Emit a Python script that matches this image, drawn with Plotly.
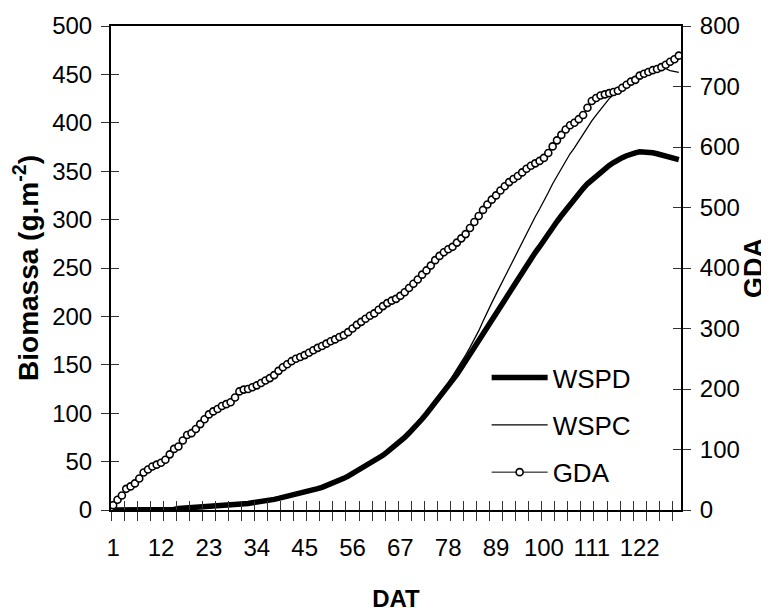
import plotly.graph_objects as go

# ---------------- data ----------------
days = list(range(1, 132))  # DAT categories 1..131

gda = [8, 17, 24, 35, 39, 44, 52, 62, 67, 72,
       75, 78, 83, 92, 101, 105, 115, 124, 127, 134,
       142, 150, 158, 163, 167, 172, 175, 178, 186, 196,
       199, 200, 203, 206, 210, 214, 218, 223, 230, 236,
       241, 246, 250, 253, 256, 260, 264, 268, 271, 275,
       279, 282, 286, 289, 294, 300, 306, 311, 316, 321,
       325, 331, 337, 342, 346, 349, 354, 360, 367, 374,
       381, 389, 396, 404, 413, 420, 426, 431, 435, 442,
       449, 456, 466, 476, 486, 496, 505, 513, 520, 528,
       535, 542, 547, 552, 558, 564, 569, 573, 577, 582,
       590, 601, 611, 620, 629, 636, 640, 646, 653, 665,
       676, 681, 685, 687, 689, 691, 693, 698, 703, 708,
       711, 718, 721, 724, 727, 729, 732, 736, 741, 745,
       751]

wspd = [0, 0, 0, 0, 0, 0, 0, 0, 0, 0,
        0, 0, 0, 0, 0.5, 1.5, 1.8, 2, 2.2, 2.4,
        2.6, 2.8, 3, 3.2, 3.4, 3.7, 4, 4.4, 5, 5.6,
        6.2, 6.8, 7.5, 8, 8.5, 9.2, 10, 11, 12, 13,
        14, 15, 16, 17, 18.2, 19.4, 20.6, 22, 23.4, 25,
        26.7, 28.5, 30.5, 32.7, 35, 37.5, 40, 42.5, 45, 47.5,
        50.5, 53.5, 56.5, 60, 63.5, 67, 71, 75, 79.5, 84,
        89, 94, 99.5, 105, 110.5, 116.5, 122, 128, 134, 140,
        147, 154, 161, 168, 175, 182, 190, 197, 204, 212,
        219, 226, 233, 240, 246, 252, 259, 266, 272, 279,
        286, 292, 298, 304, 310, 316, 321, 327, 332, 337,
        341, 345, 349, 353, 356, 359, 362, 364, 366, 368,
        369, 370, 370, 370, 369, 368, 367, 366, 365, 364,
        362]

wspc = [0, 0, 0, 0, 0, 0, 0, 0, 0, 0,
        0, 0, 0, 0, 0.3, 1.2, 1.5, 1.7, 1.9, 2.1,
        2.3, 2.5, 2.7, 2.9, 3.1, 3.4, 3.7, 4.1, 4.6, 5.2,
        5.8, 6.4, 7, 7.6, 8.2, 8.9, 9.7, 10.6, 11.6, 12.6,
        13.6, 14.6, 15.6, 16.6, 17.8, 19, 20.2, 21.6, 23, 24.6,
        26.3, 28.1, 30.1, 32.3, 34.6, 37, 39.5, 42, 44.5, 47,
        50, 53, 56, 59.5, 63, 66.5, 70.5, 74.5, 79, 83.5,
        88.5, 94, 99.5, 105, 111, 117, 124, 131, 138, 145,
        152, 160, 168, 176, 185, 195, 205, 214, 223, 232,
        241, 250, 259, 268, 277, 285, 294, 303, 311, 319,
        328, 337, 345, 353, 361, 368, 374, 381, 389, 396,
        402, 408, 414, 420, 425, 429, 433, 437, 440, 443,
        446, 448, 450, 451, 452, 454, 455, 456, 454, 453,
        452]

x_tick_labels = [1, 12, 23, 34, 45, 56, 67, 78, 89, 100, 111, 122]
y_left_ticks = [0, 50, 100, 150, 200, 250, 300, 350, 400, 450, 500]
y_right_ticks = [0, 100, 200, 300, 400, 500, 600, 700, 800]

# ---------------- style ----------------
FONT = "Liberation Sans, Arial, sans-serif"
TICK_SIZE = 24
x_range = [days[0] - 0.5, days[-1] + 0.5]
x_boundaries = [days[0] - 0.5 + 3 * k for k in range(0, 44)]

fig = go.Figure()
fig.add_trace(go.Scatter(x=days, y=wspd, name="WSPD", mode="lines",
                         line=dict(color="black", width=5.5), legendgroup="a"))
fig.add_trace(go.Scatter(x=days, y=wspc, name="WSPC", mode="lines",
                         line=dict(color="black", width=1.3), legendgroup="b"))
fig.add_trace(go.Scatter(x=days, y=gda, name="GDA", mode="lines+markers", yaxis="y2",
                         line=dict(color="black", width=1),
                         marker=dict(symbol="circle", size=7, color="white",
                                     line=dict(color="black", width=1.6)),
                         legendgroup="c"))
# invisible carriers for the overlay axes that draw the inner half of the crossing ticks
fig.add_trace(go.Scatter(x=days, y=wspd, xaxis="x2", yaxis="y3", mode="lines",
                         line=dict(width=0, color="rgba(0,0,0,0)"), showlegend=False,
                         hoverinfo="skip"))
fig.add_trace(go.Scatter(x=days, y=gda, xaxis="x2", yaxis="y4", mode="lines",
                         line=dict(width=0, color="rgba(0,0,0,0)"), showlegend=False,
                         hoverinfo="skip"))

common = dict(showgrid=False, zeroline=False, automargin=False,
              tickfont=dict(family=FONT, size=TICK_SIZE, color="black"))

fig.update_layout(
    template="none",
    width=761, height=604,
    margin=dict(l=103, r=88, t=18, b=102, pad=0),
    paper_bgcolor="white", plot_bgcolor="white",
    font=dict(family=FONT, color="black"),
    showlegend=True,
    legend=dict(x=0.659, xanchor="left", y=0.322, yanchor="top",
                bgcolor="rgba(0,0,0,0)", borderwidth=0,
                font=dict(family=FONT, size=26, color="black"),
                tracegroupgap=10.5, itemwidth=56),
    xaxis=dict(range=x_range, tickmode="array", tickvals=x_tick_labels,
               ticktext=[str(v) for v in x_tick_labels], ticks="",
               showline=True, linecolor="black", linewidth=2, mirror=True,
               minor=dict(tickmode="array", tickvals=x_boundaries, ticks="outside",
                          ticklen=9, tickwidth=1, tickcolor="#333"),
               ticklabelstandoff=15,
               title=dict(text="<b>DAT</b>", font=dict(family=FONT, size=24, color="black"),
                          standoff=43),
               **common),
    xaxis2=dict(range=x_range, overlaying="x", anchor="y", side="bottom",
                tickmode="array", tickvals=x_boundaries, ticks="inside", ticklen=9,
                tickwidth=1, tickcolor="#333", showticklabels=False, showline=False,
                **common),
    yaxis=dict(range=[0, 500], tickmode="array", tickvals=y_left_ticks, ticks="outside",
               ticklen=8, tickwidth=1, tickcolor="#333",
               showline=True, linecolor="black", linewidth=2,
               ticklabelstandoff=4,
               title=dict(text="<b>Biomassa (g.m<sup>-2</sup>)</b>",
                          font=dict(family=FONT, size=28, color="black"), standoff=6),
               **common),
    yaxis3=dict(range=[0, 500], overlaying="y", anchor="x", side="left",
                tickmode="array", tickvals=y_left_ticks, ticks="inside", ticklen=8,
                tickwidth=1, tickcolor="#333", showticklabels=False, showline=False,
                **common),
    yaxis2=dict(range=[0, 800], overlaying="y", anchor="x", side="right",
                tickmode="array", tickvals=y_right_ticks, ticks="outside",
                ticklen=8, tickwidth=1, tickcolor="#333",
                showline=True, linecolor="black", linewidth=2,
                ticklabelstandoff=4,
                title=dict(text="<b>GDA</b>", font=dict(family=FONT, size=27, color="black"),
                           standoff=4),
                **common),
    yaxis4=dict(range=[0, 800], overlaying="y", anchor="x", side="right",
                tickmode="array", tickvals=y_right_ticks, ticks="inside", ticklen=8,
                tickwidth=1, tickcolor="#333", showticklabels=False, showline=False,
                **common),
)

fig.write_html("out.html")
